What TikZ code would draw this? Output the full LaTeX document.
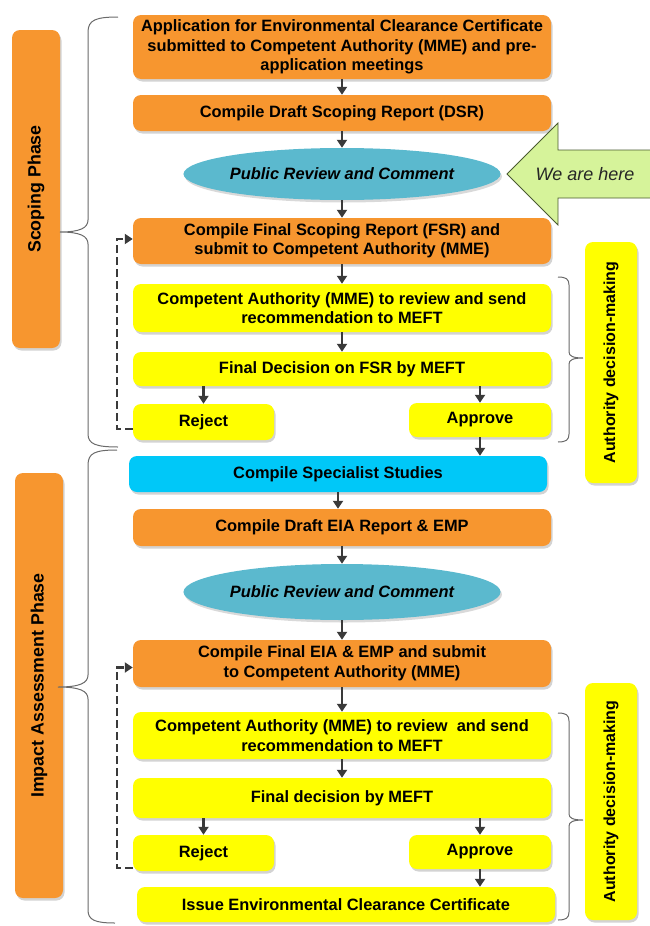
\documentclass[tikz,border=0pt]{standalone}
\usepackage{fontspec}
\setmainfont{Liberation Sans}
\usetikzlibrary{shapes.geometric,shadows,arrows.meta,calc}
\definecolor{orng}{HTML}{F7962F}
\definecolor{yel}{HTML}{FFFF00}
\definecolor{cyn}{HTML}{00C8F8}
\definecolor{aqua}{HTML}{5BB9CE}
\definecolor{lgreen}{HTML}{D6F39A}
\definecolor{dgreen}{HTML}{4A5A30}
\definecolor{arr}{HTML}{3A3A3A}
\definecolor{brc}{HTML}{6A6A6A}
\tikzset{
  base/.style={rounded corners=8pt, align=center, inner sep=2pt,
    font=\fontsize{16.4}{19.5}\selectfont\bfseries,
    drop shadow={shadow xshift=1.5pt, shadow yshift=-2.5pt, opacity=.35}},
  obox/.style={base, fill=orng},
  ybox/.style={base, fill=yel},
  cbox/.style={base, fill=cyn},
  wide/.style={minimum width=418pt},
  pubell/.style={ellipse, fill=aqua, minimum width=310pt, inner sep=0pt,
    font=\fontsize{16.4}{19}\selectfont\bfseries\itshape,
    drop shadow={shadow xshift=1.5pt, shadow yshift=-2.5pt, opacity=.3}},
  sidebar/.style={base, rotate=90},
  flow/.style={draw=arr, line width=2.4pt, -{Triangle[width=10pt,length=8pt]}},
  dflow/.style={draw=arr, line width=2.6pt, dash pattern=on 8pt off 4pt, -{Triangle[width=10pt,length=8pt]}},
  bracel/.style={draw=brc, line width=1pt},
}
\begin{document}
\begin{tikzpicture}[x=1pt,y=-1pt]
\useasboundingbox (0,0) rectangle (649,926);

% side bars
\node[sidebar, fill=orng, minimum width=318pt, minimum height=48pt, font=\fontsize{17.8}{20}\selectfont\bfseries] (sp) at (36,189) {Scoping Phase};
\node[sidebar, fill=orng, minimum width=425pt, minimum height=48pt, font=\fontsize{17.8}{20}\selectfont\bfseries] (ia) at (39,685.5) {Impact Assessment Phase};
\node[sidebar, fill=yel, minimum width=241pt, minimum height=52pt, font=\fontsize{16}{18}\selectfont\bfseries] (adm1) at (611,362.5) {Authority decision-making};
\node[sidebar, fill=yel, minimum width=237pt, minimum height=52pt, font=\fontsize{16}{18}\selectfont\bfseries] (adm2) at (611,801.5) {Authority decision-making};

% scoping phase
\node[obox, wide, minimum height=64pt] (app) at (342,47) {Application for Environmental Clearance Certificate\\submitted to Competent Authority (MME) and pre-\\application meetings};
\node[obox, wide, minimum height=36pt] (dsr) at (342,113) {Compile Draft Scoping Report (DSR)};
\node[pubell, minimum height=52pt] (pr1) at (342,174) {Public Review and Comment};
\node[obox, wide, minimum height=46pt] (fsr) at (342,241) {Compile Final Scoping Report (FSR) and\\submit to Competent Authority (MME)};
\node[ybox, wide, minimum height=48pt] (ca1) at (342,308) {Competent Authority (MME) to review and send\\recommendation to MEFT};
\node[ybox, wide, minimum height=34pt] (fd1) at (342,369) {Final Decision on FSR by MEFT};
\node[ybox, minimum width=141pt, minimum height=36pt] (rej1) at (203.5,422) {Reject};
\node[ybox, minimum width=142pt, minimum height=34pt] (apr1) at (480,420) {Approve};

% impact assessment phase
\node[cbox, wide, minimum height=36pt] (spec) at (338,474) {Compile Specialist Studies};
\node[obox, wide, minimum height=37pt] (dra) at (342,527.5) {Compile Draft EIA Report \& EMP};
\node[pubell, minimum height=56pt] (pr2) at (342,592) {Public Review and Comment};
\node[obox, wide, minimum height=47pt] (feia) at (342,663.5) {Compile Final EIA \& EMP and submit\\to Competent Authority (MME)};
\node[ybox, wide, minimum height=47pt] (ca2) at (342,735.5) {Competent Authority (MME) to review\ \ and send\\recommendation to MEFT};
\node[ybox, wide, minimum height=40pt] (fd2) at (342,798) {Final decision by MEFT};
\node[ybox, minimum width=141pt, minimum height=36pt] (rej2) at (203.5,853) {Reject};
\node[ybox, minimum width=142pt, minimum height=34pt] (apr2) at (480,852) {Approve};
\node[ybox, wide, minimum height=35pt] (ecc) at (346,904.5) {Issue Environmental Clearance Certificate};

% we are here arrow
\draw[fill=lgreen, draw=dgreen, line width=0.8pt, line join=miter]
  (507,174) -- (558,123) -- (558,150) -- (655,150) -- (655,198) -- (558,198) -- (558,225) -- cycle;
\node[font=\fontsize{18}{20}\selectfont\itshape, text=black!85] (here) at (585,174) {We are here};

% flow arrows
\draw[flow] (app) -- (dsr);
\draw[flow] (dsr) -- (pr1);
\draw[flow] (pr1) -- (fsr);
\draw[flow] (fsr) -- (ca1);
\draw[flow] (ca1) -- (fd1);
\draw[flow] (fd1.south -| rej1) -- (rej1);
\draw[flow] (fd1.south -| apr1) -- (apr1);
\draw[flow] (apr1) -- (apr1 |- spec.north);
\draw[flow] (spec) -- (spec |- dra.north);
\draw[flow] (dra) -- (pr2);
\draw[flow] (pr2) -- (feia);
\draw[flow] (feia) -- (ca2);
\draw[flow] (ca2) -- (fd2);
\draw[flow] (fd2.south -| rej2) -- (rej2);
\draw[flow] (fd2.south -| apr2) -- (apr2);
\draw[flow] (apr2) -- (apr2 |- ecc.north);

% dashed feedback
\draw[dflow] ([yshift=-7pt]rej1.west) -- ++(-16,0) |- ([yshift=2pt]fsr.west);
\draw[dflow] ([yshift=-15pt]rej2.west) -- ++(-16,0) |- ([yshift=-4pt]feia.west);

% braces
\draw[bracel] (118,17) .. controls (96,17) and (88,20) .. (88,32) -- (88,220)
  .. controls (88,228) and (80,232) .. (60,232)
  .. controls (80,232) and (88,236) .. (88,244) -- (88,434)
  .. controls (88,444) and (96,447) .. (118,447);
\draw[bracel] (117,450) .. controls (95,450) and (88,453) .. (88,465) -- (88,675)
  .. controls (88,683) and (80,687) .. (58,687)
  .. controls (80,687) and (88,691) .. (88,699) -- (88,910)
  .. controls (88,920) and (95,923) .. (115,923);
\draw[bracel] (558,277) .. controls (566,277) and (569,279) .. (569,285) -- (569,352)
  .. controls (569,356) and (573,358) .. (583,358)
  .. controls (573,358) and (569,360) .. (569,364) -- (569,434)
  .. controls (569,440) and (566,442) .. (558,442);
\draw[bracel] (558,713) .. controls (566,713) and (569,715) .. (569,721) -- (569,814)
  .. controls (569,818) and (573,820) .. (583,820)
  .. controls (573,820) and (569,822) .. (569,826) -- (569,912)
  .. controls (569,918) and (566,920) .. (558,920);
\end{tikzpicture}
\end{document}
